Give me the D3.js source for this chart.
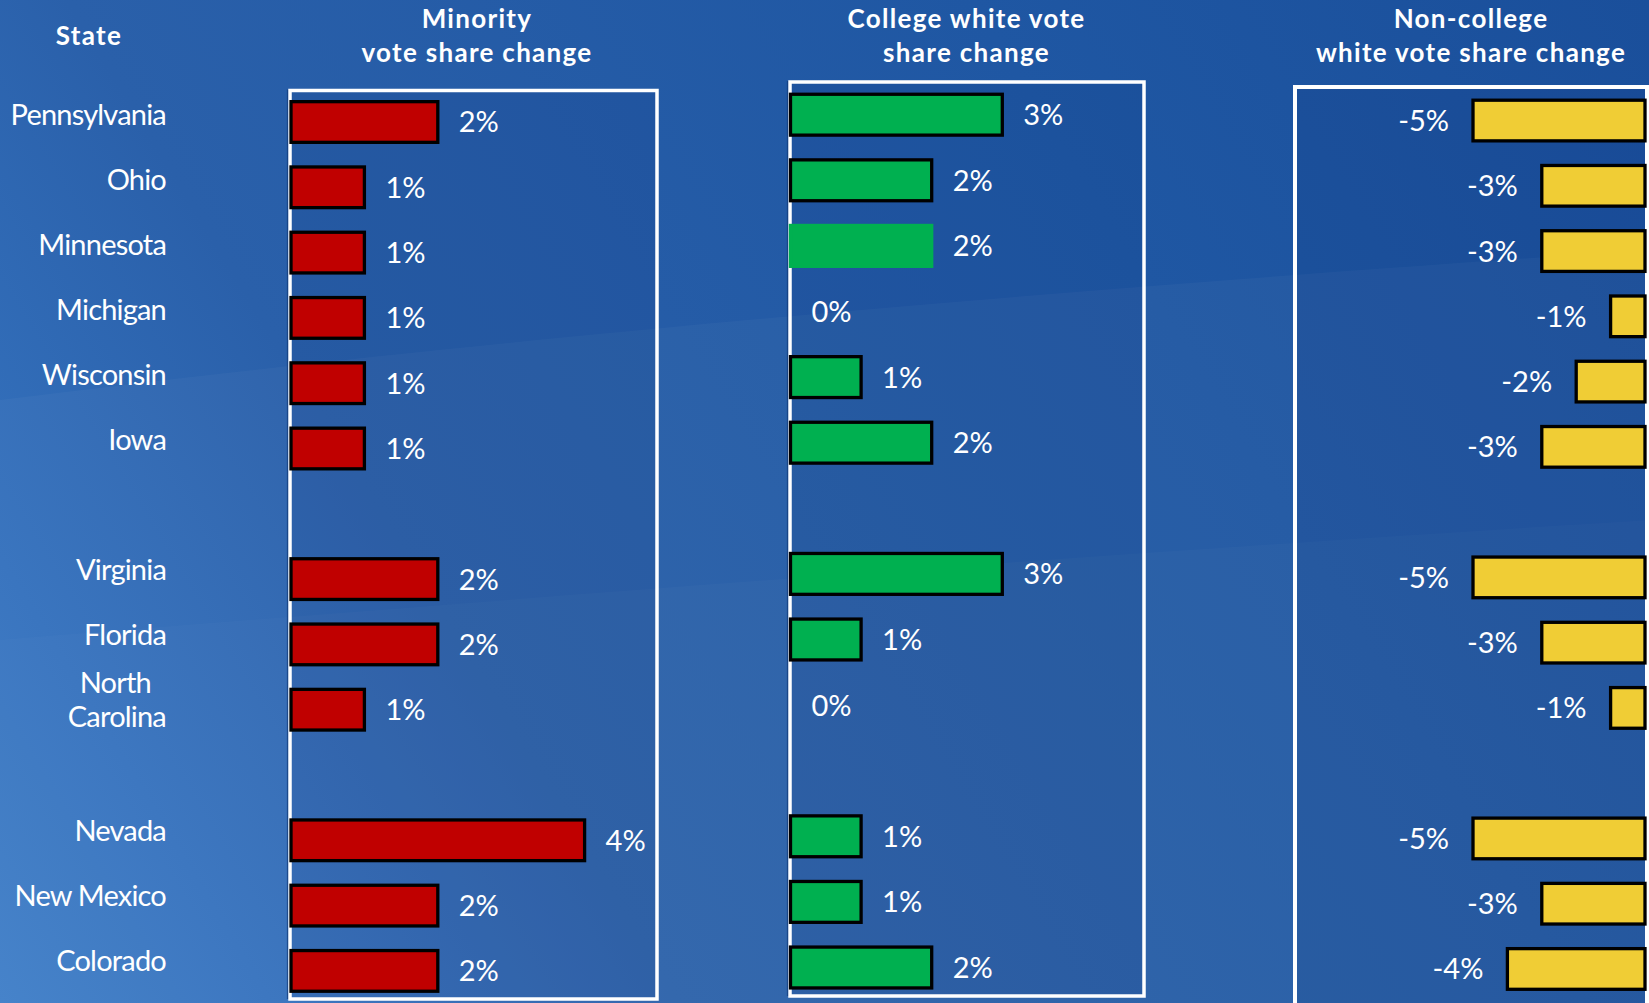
<!DOCTYPE html>
<html>
<head>
<meta charset="utf-8">
<script src="https://cdn.jsdelivr.net/npm/d3@7/dist/d3.min.js"></script>
<style>
  html, body { margin: 0; padding: 0; background: #2a60aa; overflow: hidden; }
  svg { display: block; }
  text { font-family: Lato, "Open Sans", sans-serif; fill: #ffffff; }
</style>
</head>
<body>
<svg id="chart" width="1649" height="1003"></svg>
<script>
// ---------------- DATA ----------------
const states = ["Pennsylvania", "Ohio", "Minnesota", "Michigan", "Wisconsin", "Iowa",
                "Virginia", "Florida", "North Carolina",
                "Nevada", "New Mexico", "Colorado"];
const stateGroups = [1, 1, 1, 1, 1, 1, 2, 2, 2, 3, 3, 3];
const minorityChange       = [2, 1, 1, 1, 1, 1, 2, 2, 1, 4, 2, 2];
const collegeWhiteChange   = [3, 2, 2, 0, 1, 2, 3, 1, 0, 1, 1, 2];
const nonCollegeWhiteChange = [-5, -3, -3, -1, -2, -3, -5, -3, -1, -5, -3, -4];
const stateHeader = "State";
const panelTitles = [
  ["Minority", "vote share change"],
  ["College white vote", "share change"],
  ["Non-college", "white vote share change"]
];
const seriesValues = [minorityChange, collegeWhiteChange, nonCollegeWhiteChange];
const seriesDomains = [[0, 4], [0, 3], [-5, 0]];

// ---------------- LAYOUT ----------------
const W = 1649, H = 1003;
const svg = d3.select("#chart");
const fmt = d3.formatLocale({ decimal: ".", thousands: ",", grouping: [3], currency: ["", ""], minus: "-" }).format("d");

// slots with gaps between state groups
const slots = [];
states.forEach((s, i) => {
  if (i > 0 && stateGroups[i] !== stateGroups[i - 1]) slots.push("gap" + stateGroups[i]);
  slots.push(s);
});

const defs = svg.append("defs");
const bg = defs.append("linearGradient").attr("id", "bg")
  .attr("gradientUnits", "userSpaceOnUse")
  .attr("x1", 0).attr("y1", H).attr("x2", W).attr("y2", 0);
[[0, "#3d7dc8"], [0.12, "#3471bd"], [0.3, "#2a60aa"], [0.7, "#1f57a3"], [1, "#1a4f9b"]]
  .forEach(([o, c]) => bg.append("stop").attr("offset", o).attr("stop-color", c));

svg.append("rect").attr("width", W).attr("height", H).attr("fill", "url(#bg)");
// subtle light swooshes of the slide background
svg.append("path")
  .attr("d", "M0,400 C400,350 900,300 1649,250 L1649,1003 L0,1003 Z")
  .attr("fill", "#ffffff").attr("opacity", 0.03);
svg.append("path")
  .attr("d", "M0,640 C500,600 1000,560 1649,520 L1649,1003 L0,1003 Z")
  .attr("fill", "#ffffff").attr("opacity", 0.018);

const panels = [
  { frame: [290, 90.5, 657, 999], yRange: [89.35, 1003.55], xRange: [291, 584.6],
    fill: "#c00000", side: "right" },
  { frame: [790, 82, 1144, 996], yRange: [81.9, 1000.3], xRange: [790.5, 1002.3],
    fill: "#00b050", side: "right" },
  { frame: [1295, 87, 1647, 1010], yRange: [87.9, 1001.6], xRange: [1473, 1645],
    fill: "#f0cd35", side: "left" }
];

const stroke = 3.3;

panels.forEach((p, pi) => {
  const [fx0, fy0, fx1, fy1] = p.frame;
  // frame
  svg.append("rect")
    .attr("x", fx0).attr("y", fy0)
    .attr("width", fx1 - fx0).attr("height", fy1 - fy0)
    .attr("fill", "#0a2a70").attr("fill-opacity", 0.1)
    .attr("stroke", "#ffffff").attr("stroke-width", pi === 2 ? 4 : 3.5);
  if (pi < 2) {
    svg.append("line").attr("x1", fx0 - 2.5).attr("x2", fx0 - 2.5)
      .attr("y1", fy0 - 1).attr("y2", fy1)
      .attr("stroke", "#123a78").attr("stroke-width", 1.2).attr("opacity", 0.7);
  }

  const y = d3.scaleBand().domain(slots).range(p.yRange)
    .paddingInner(0.377).paddingOuter(0.1885);
  const x = d3.scaleLinear().domain(seriesDomains[pi]).range(p.xRange);
  const vals = seriesValues[pi];
  const data = states.map((s, i) => ({ state: s, v: vals[i] }));

  const g = svg.append("g");
  g.selectAll("rect.bar").data(data.filter(d => d.v !== 0)).join("rect")
    .attr("class", "bar")
    .attr("x", d => Math.min(x(0), x(d.v)))
    .attr("width", d => Math.abs(x(d.v) - x(0)))
    .attr("y", d => y(d.state))
    .attr("height", y.bandwidth())
    .attr("fill", p.fill)
    .attr("stroke", d => (pi === 1 && d.state === "Minnesota") ? p.fill : "#000000")
    .attr("stroke-width", stroke);

  g.selectAll("text.val").data(data).join("text")
    .attr("class", "val")
    .attr("x", d => p.side === "right" ? Math.max(x(0), x(d.v)) + 21 : x(d.v) - 24)
    .attr("y", d => y(d.state) + y.bandwidth() / 2)
    .attr("dy", "0.36em")
    .attr("text-anchor", p.side === "right" ? "start" : "end")
    .attr("font-size", 29)
    .text(d => fmt(d.v) + "%");

  // header
  const cx = [477, 966.5, 1471][pi];
  panelTitles[pi].forEach((line, li) => {
    svg.append("text")
      .attr("x", cx).attr("y", li === 0 ? 28.3 : 61.7)
      .attr("text-anchor", "middle")
      .attr("font-size", 26).attr("font-weight", 700)
      .attr("letter-spacing", 1.3)
      .text(line);
  });
});

// State labels
const yLab = d3.scaleBand().domain(slots).range([82, 992.7]).paddingInner(0.377).paddingOuter(0.1885);
svg.append("text").attr("x", 89).attr("y", 45).attr("text-anchor", "middle")
  .attr("font-size", 26).attr("font-weight", 700).attr("letter-spacing", 1.3)
  .text(stateHeader);

const lab = svg.append("g");
states.forEach(s => {
  const cy = yLab(s) + yLab.bandwidth() / 2;
  const words = s === "North Carolina" ? ["North", "Carolina"] : [s];
  const t = lab.append("text")
    .attr("text-anchor", "end")
    .attr("font-size", 29)
    .attr("letter-spacing", -0.8);
  if (words.length === 1) {
    t.attr("x", 166).attr("y", cy).attr("dy", "0.36em").text(s);
  } else {
    t.append("tspan").attr("x", 151).attr("y", cy - 17 + 10.5).text(words[0]);
    t.append("tspan").attr("x", 166).attr("y", cy + 17 + 10.5).text(words[1]);
  }
});
</script>
</body>
</html>
